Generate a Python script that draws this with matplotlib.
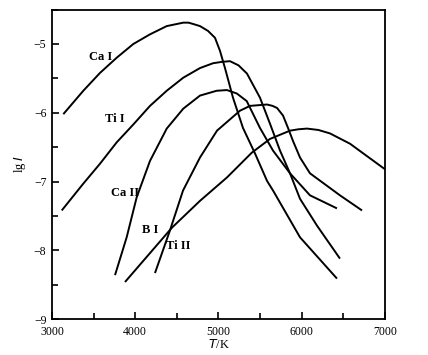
import numpy as np
import matplotlib
matplotlib.use('Agg')
import matplotlib.pyplot as plt
from matplotlib.ticker import MultipleLocator

plt.rcParams['font.family'] = ['Liberation Serif', 'DejaVu Serif']

# curves: temperature (K) and lg I
ca1_t = [3136, 3376, 3577, 3777, 3977, 4177, 4378, 4577, 4640, 4697, 4778, 4874, 4958, 5018, 5078, 5174, 5294, 5438, 5583, 5655, 5979, 6423]
ca1_y = [-6.02, -5.68, -5.42, -5.20, -5.00, -4.86, -4.74, -4.69, -4.69, -4.71, -4.74, -4.81, -4.91, -5.10, -5.35, -5.78, -6.22, -6.59, -6.99, -7.13, -7.81, -8.41]

ti1_t = [3117, 3376, 3577, 3777, 3977, 4177, 4378, 4577, 4778, 4934, 5040, 5138, 5240, 5342, 5498, 5619, 5739, 5859, 5979, 6183, 6459]
ti1_y = [-7.42, -7.03, -6.74, -6.43, -6.17, -5.90, -5.68, -5.49, -5.35, -5.28, -5.26, -5.25, -5.31, -5.43, -5.78, -6.16, -6.55, -6.88, -7.25, -7.64, -8.12]

ca2_t = [3757, 3897, 4017, 4177, 4378, 4577, 4778, 4978, 5102, 5220, 5339, 5498, 5655, 5859, 6099, 6423]
ca2_y = [-8.36, -7.81, -7.23, -6.70, -6.23, -5.94, -5.75, -5.68, -5.67, -5.72, -5.83, -6.22, -6.55, -6.88, -7.20, -7.39]

ti2_t = [4237, 4417, 4574, 4778, 4982, 5258, 5378, 5480, 5583, 5650, 5703, 5775, 5835, 5895, 5979, 6099, 6459, 6724]
ti2_y = [-8.33, -7.71, -7.13, -6.65, -6.26, -5.97, -5.90, -5.89, -5.88, -5.90, -5.93, -6.04, -6.22, -6.41, -6.65, -6.88, -7.20, -7.42]

b1_t = [3877, 4177, 4441, 4778, 5102, 5400, 5619, 5859, 5960, 6063, 6200, 6339, 6580, 6976, 7000]
b1_y = [-8.46, -8.04, -7.67, -7.28, -6.94, -6.58, -6.38, -6.26, -6.24, -6.23, -6.25, -6.30, -6.45, -6.80, -6.82]

curve_labels = ['Ca I', 'Ti I', 'Ca II', 'B I', 'Ti II']
label_t = [3590, 3760, 3880, 4180, 4520]
label_y = [-5.19, -6.09, -7.16, -7.70, -7.94]

fig = plt.figure(figsize=(4.28, 3.55), dpi=100)
ax = fig.add_axes([0.1215, 0.101, 0.778, 0.872])

for t, y in [(ca1_t, ca1_y), (ti1_t, ti1_y), (ca2_t, ca2_y), (ti2_t, ti2_y), (b1_t, b1_y)]:
    ax.plot(t, y, color='black', lw=1.4, solid_capstyle='butt', solid_joinstyle='round')

for s, t, y in zip(curve_labels, label_t, label_y):
    ax.text(t, y, s, fontsize=9, fontweight='bold', ha='center', va='center')

ax.set_xlim(3000, 7000)
ax.set_ylim(-9, -4.5)
ax.xaxis.set_major_locator(MultipleLocator(1000))
ax.xaxis.set_minor_locator(MultipleLocator(500))
ax.yaxis.set_major_locator(MultipleLocator(1))
ax.yaxis.set_minor_locator(MultipleLocator(0.5))
ax.tick_params(which='both', direction='in', labelsize=8.5, width=1.2)
ax.tick_params(which='major', length=5)
ax.tick_params(which='minor', length=4)
ax.tick_params(axis='x', pad=5)
ax.tick_params(axis='y', pad=4)
for sp in ax.spines.values():
    sp.set_linewidth(1.3)

ax.set_xlabel('$T$/K', fontsize=9, labelpad=0)
ax.set_ylabel('lg $I$', fontsize=9, labelpad=4)

fig.savefig('out.png', dpi=100)
